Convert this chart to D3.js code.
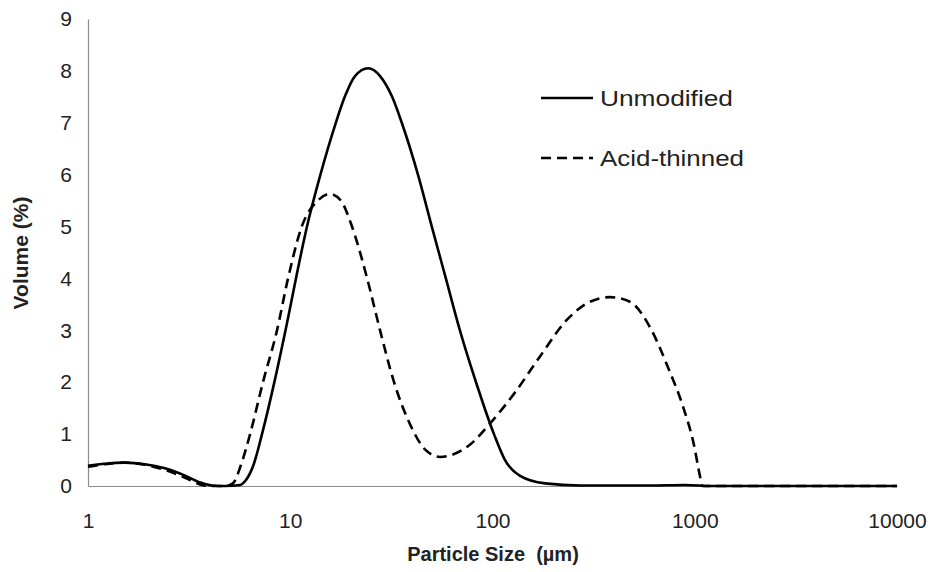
<!DOCTYPE html>
<html>
  <head>
    <meta charset="utf-8" />
    <script src="https://d3js.org/d3.v7.min.js"></script>
    <style>
      body {
        margin: 0;
        background: white;
      }
      #canvas text {
        font-family: Arial, "Liberation Sans", sans-serif;
        fill: #222;
      }
    </style>
  </head>
  <body>
    <svg id="canvas" width="935" height="572"></svg>

    <script>
      // particle size (µm) and volume (%)
      let unmodSize = [1.0, 1.21, 1.52, 1.91, 2.4, 3.02, 3.58, 4.1, 4.76, 5.65,
        6.0, 6.6, 7.25, 8.4, 9.65, 10.8, 12.1, 14.1, 16.8, 18.6, 20.9, 24.3,
        27.8, 31.9, 35.6, 42.8, 50.1, 58.8, 69.0, 82.9, 101.7, 115.3, 136.3,
        182, 271, 600, 900, 1200, 10000];
      let unmodVolume = [0.39, 0.43, 0.45, 0.42, 0.34, 0.2, 0.07, 0.01, 0.0,
        0.02, 0.1, 0.42, 1.0, 2.05, 3.15, 4.1, 5.0, 6.0, 7.0, 7.5, 7.9, 8.05,
        7.9, 7.5, 7.0, 6.0, 5.0, 4.0, 3.0, 2.0, 1.0, 0.5, 0.2, 0.05, 0.01,
        0.01, 0.02, 0.0, 0.0];

      let acidSize = [1.0, 1.21, 1.52, 1.91, 2.4, 3.02, 3.58, 4.1, 4.76, 5.2,
        5.7, 6.33, 7.33, 8.6, 9.75, 11.4, 13.7, 15.7, 17.8, 20.2, 24.0, 27.8,
        32.6, 39.0, 46.5, 55, 65, 77.5, 97, 129, 172, 233, 303, 381, 478, 612,
        735, 880, 990, 1060, 1090, 10000];
      let acidVolume = [0.37, 0.42, 0.45, 0.41, 0.31, 0.16, 0.03, 0.0, 0.0,
        0.05, 0.4, 1.0, 2.0, 3.0, 4.0, 5.0, 5.5, 5.63, 5.5, 5.0, 4.0, 3.0,
        2.0, 1.2, 0.7, 0.56, 0.62, 0.8, 1.2, 1.8, 2.5, 3.2, 3.55, 3.64, 3.55,
        3.0, 2.3, 1.5, 0.8, 0.2, 0.0, 0.0];

      let xTicks = [1, 10, 100, 1000, 10000];
      let yTicks = [0, 1, 2, 3, 4, 5, 6, 7, 8, 9];

      let series = [
        { name: "Unmodified", size: unmodSize, volume: unmodVolume, dash: null, w: 133 },
        { name: "Acid-thinned", size: acidSize, volume: acidVolume, dash: "10,6", w: 144 },
      ];

      let svg = d3.select("#canvas");

      let xScale = d3.scaleLog().domain([1, 10000]).range([88, 897]);
      let yScale = d3.scaleLinear().domain([0, 9]).range([486, 19]);

      let xAxis = d3
        .axisBottom(xScale)
        .tickValues(xTicks)
        .tickFormat(d3.format("d"))
        .tickSize(0)
        .tickPadding(27);
      let xLine = svg
        .append("g")
        .attr("transform", "translate(0,486)")
        .call(xAxis);

      let yAxis = d3
        .axisLeft(yScale)
        .tickValues(yTicks)
        .tickSize(0)
        .tickPadding(16);
      let yLine = svg
        .append("g")
        .attr("transform", "translate(88,0)")
        .call(yAxis);

      svg.selectAll(".domain").attr("stroke", "#8c8c8c").attr("stroke-width", 1.2);
      svg.selectAll(".tick text").style("font-size", "21px");

      svg
        .append("text")
        .text("Volume (%)")
        .attr("text-anchor", "middle")
        .attr("transform", "translate(28,253) rotate(270)")
        .style("font-size", "21px")
        .style("font-weight", "bold");

      svg
        .append("text")
        .text("Particle Size  (µm)")
        .attr("x", 493)
        .attr("y", 561)
        .attr("text-anchor", "middle")
        .style("font-size", "20px")
        .style("font-weight", "bold")
        .style("white-space", "pre");

      let lineGenerator = d3
        .line()
        .x((d) => xScale(d.size))
        .y((d) => yScale(d.volume))
        .curve(d3.curveMonotoneX);

      series.forEach(function (s, i) {
        let pts = s.size.map((v, k) => ({ size: v, volume: s.volume[k] }));
        svg
          .append("path")
          .datum(pts)
          .attr("d", lineGenerator)
          .style("fill", "none")
          .style("stroke", "#000")
          .style("stroke-width", "2.6px")
          .style("stroke-dasharray", s.dash);

        // legend
        let ly = 98 + i * 60;
        svg
          .append("line")
          .attr("x1", 541)
          .attr("x2", 593)
          .attr("y1", ly)
          .attr("y2", ly)
          .style("stroke", "#000")
          .style("stroke-width", "2.6px")
          .style("stroke-dasharray", s.dash);
        svg
          .append("text")
          .text(s.name)
          .attr("x", 600)
          .attr("y", ly)
          .attr("dy", "0.35em")
          .attr("textLength", s.w)
          .attr("lengthAdjust", "spacingAndGlyphs")
          .style("font-size", "22px");
      });
    </script>
  </body>
</html>
